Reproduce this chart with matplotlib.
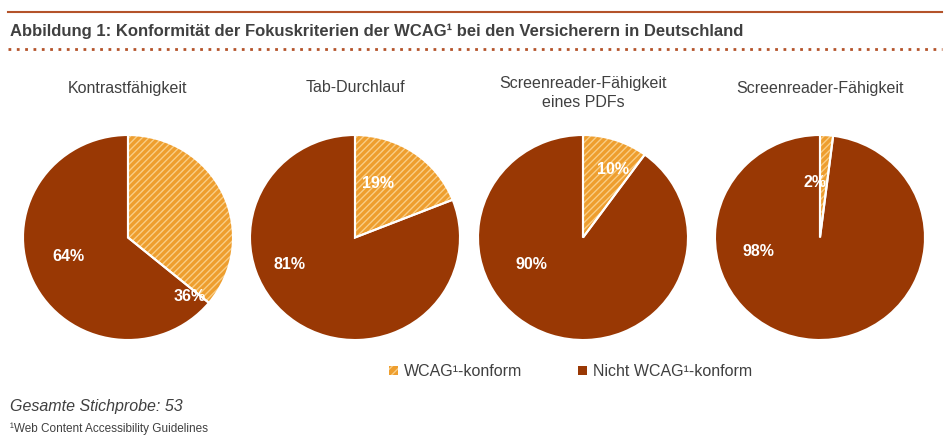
import matplotlib
matplotlib.use("Agg")
import matplotlib.pyplot as plt
from matplotlib.patches import Rectangle

titles = ["Kontrastfähigkeit", "Tab-Durchlauf", "Screenreader-Fähigkeit\neines PDFs", "Screenreader-Fähigkeit"]
konform = [36, 19, 10, 2]
nicht = [64, 81, 90, 98]
legend_labels = ["WCAG¹-konform", "Nicht WCAG¹-konform"]

ORANGE = "#EE9E2E"
HATCH = "#F9CD85"
DARK = "#993804"
LINE = "#B4532A"
TXT = "#404040"

W, H = 953, 447
fig = plt.figure(figsize=(9.53, 4.47), dpi=100)
plt.rcParams["font.family"] = "Liberation Sans"

def fx(x): return x / W
def fy(y): return 1 - y / H

# header
fig.add_artist(plt.Line2D([fx(8), fx(942)], [fy(12), fy(12)], color=LINE, lw=1.5))
fig.add_artist(plt.Line2D([fx(8), fx(942)], [fy(49), fy(49)], color=LINE, lw=2, ls=(0, (1, 2))))
fig.text(fx(10), fy(31), "Abbildung 1: Konformität der Fokuskriterien der WCAG¹ bei den Versicherern in Deutschland",
         fontsize=12, fontweight="bold", color=TXT, va="center")

lefts = [23, 250, 478, 715]
label_pos = [[(0.59, -0.58), (-0.57, -0.19)],
             [(0.22, 0.53), (-0.62, -0.26)],
             [(0.29, 0.66), (-0.49, -0.26)],
             [(-0.05, 0.54), (-0.59, -0.14)]]
for i in range(4):
    ax = fig.add_axes([fx(lefts[i]), fy(340), fx(210), 205 / H])
    vals = [konform[i], nicht[i]]
    w1, _ = ax.pie(vals, colors=[ORANGE, DARK], startangle=90, counterclock=False,
                   wedgeprops=dict(linewidth=0))
    w1[0].set_hatch("/////")
    w1[0].set_edgecolor(HATCH)
    ax.pie(vals, colors=["none", "none"], startangle=90, counterclock=False,
           wedgeprops=dict(linewidth=1.5, edgecolor="white"))
    ax.set_aspect("auto")
    ax.set_xlim(-1, 1); ax.set_ylim(-1, 1)
    ax.axis("off")
    for (px, py), v in zip(label_pos[i], vals):
        ax.text(px, py, f"{v}%", color="white", fontsize=11.5, fontweight="bold", ha="center", va="center")
    cx = lefts[i] + 105
    fig.text(fx(cx), fy(88) if i != 2 else fy(93), titles[i], fontsize=11.5, color=TXT,
             ha="center", va="center", linespacing=1.3)

# legend
for x, c, lab, hatch in [(393, ORANGE, legend_labels[0], True), (582, DARK, legend_labels[1], False)]:
    r = Rectangle((fx(x - 4), fy(375)), fx(9), 9 / H, transform=fig.transFigure,
                  facecolor=c, edgecolor=HATCH if hatch else c, hatch="////" if hatch else None, lw=0)
    fig.add_artist(r)
    fig.text(fx(x + 11), fy(371), lab, fontsize=11.5, color=TXT, va="center")

fig.text(fx(10), fy(406), "Gesamte Stichprobe: 53", fontsize=11.5, style="italic", color=TXT, va="center")
fig.text(fx(10), fy(429), "¹Web Content Accessibility Guidelines", fontsize=8.5, color=TXT, va="center")

fig.savefig("out.png", dpi=100, facecolor="white")
